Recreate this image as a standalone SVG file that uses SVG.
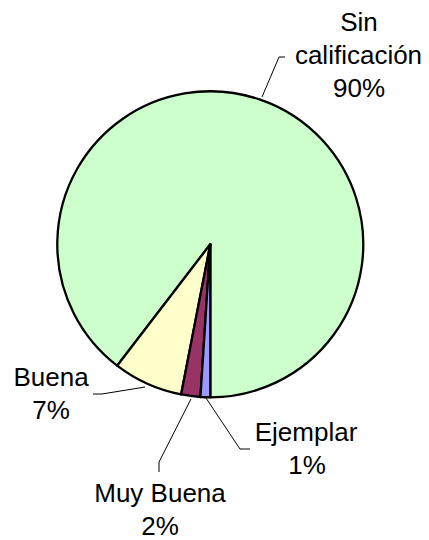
<svg xmlns="http://www.w3.org/2000/svg" width="429" height="540" viewBox="0 0 429 540">
<style>
.slice{stroke:#000;stroke-width:2.3;stroke-linejoin:round}
.lbl{font-family:"Liberation Sans",Arial,sans-serif;font-size:26px;fill:#000;text-anchor:middle}
.lead{fill:none;stroke:#000;stroke-width:1}
</style>
<rect width="429" height="540" fill="#fff"/>
<g id="slice-sin">
<path class="slice" fill="#CCFFCC" d="M210.3,244.3 L117.15,365.69 A153,153 0 1 1 210.3,397.3 Z"/>
</g>
<g id="slice-buena">
<path class="slice" fill="#FFFFCC" d="M210.3,244.3 L181.11,394.49 A153,153 0 0 1 117.15,365.69 Z"/>
</g>
<g id="slice-muybuena">
<path class="slice" fill="#993366" d="M210.3,244.3 L200.43,396.98 A153,153 0 0 1 181.11,394.49 Z"/>
</g>
<g id="slice-ejemplar">
<path class="slice" fill="#9999FF" d="M210.3,244.3 L210.3,397.3 A153,153 0 0 1 200.43,396.98 Z"/>
</g>
<g id="connectors">
<polyline class="lead" points="262,97 279,57 285,57"/>
<polyline class="lead" points="93,394 102,394 145,387"/>
<polyline class="lead" points="159,472 159,462 191,399"/>
<polyline class="lead" points="206,398 240,449 250,449"/>
</g>
<g id="label-sin">
<text class="lbl" x="359" y="31">Sin</text>
<text class="lbl" x="358.5" y="64">calificación</text>
<text class="lbl" x="359" y="97">90%</text>
</g>
<g id="label-buena">
<text class="lbl" x="51" y="386">Buena</text>
<text class="lbl" x="51" y="419">7%</text>
</g>
<g id="label-ejemplar">
<text class="lbl" x="306" y="441">Ejemplar</text>
<text class="lbl" x="307" y="474">1%</text>
</g>
<g id="label-muybuena">
<text class="lbl" x="160" y="502">Muy Buena</text>
<text class="lbl" x="160" y="535">2%</text>
</g>
</svg>
